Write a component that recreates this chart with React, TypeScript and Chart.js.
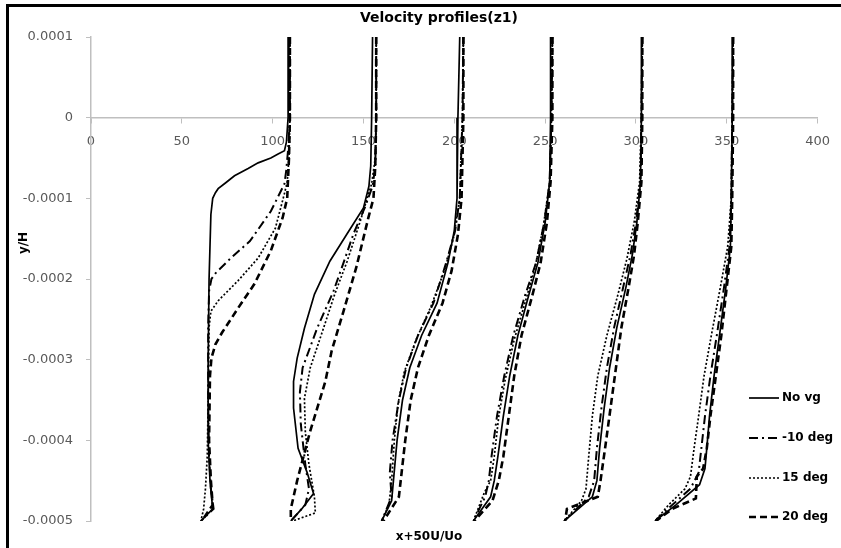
import React, { useEffect, useRef } from "react";
import { Chart, registerables } from "chart.js";

Chart.register(...registerables);

const chartTitle = "Velocity profiles(z1)";
const xAxisTitle = "x+50U/Uo";
const yAxisTitle = "y/H";
const seriesNames = ["No vg", "-10 deg", "15 deg", "20 deg"];
const yTickValues = [0.0001, 0, -0.0001, -0.0002, -0.0003, -0.0004, -0.0005];
const yTickLabels = ["0.0001", "0", "-0.0001", "-0.0002", "-0.0003", "-0.0004", "-0.0005"];

type P = [number, number];

// Series "No vg": six profiles (stations), points [x+50U/Uo, y/H]
const noVgProfiles: P[][] = [
  [[109, 0.0001], [108.5, 0], [107.6, -0.00003], [106.5, -0.000041], [103, -0.000045], [99, -0.00005], [92, -0.000056], [86.5, -0.000063], [79, -0.000072], [74, -0.000081], [70, -0.000088], [68.5, -0.000093], [67, -0.0001], [66, -0.00012], [65, -0.0002], [64.5, -0.0003], [64.5, -0.0004], [65.5, -0.00045], [67, -0.000485], [60.5, -0.0005]],
  [[155, 0.0001], [154.5, 0], [154, -0.00006], [153, -0.000085], [150, -0.000112], [141, -0.000144], [131.5, -0.000178], [123, -0.000219], [117.5, -0.000261], [113.5, -0.000298], [111.5, -0.000327], [111.5, -0.00036], [114, -0.00041], [119, -0.00044], [122.5, -0.000466], [116, -0.000485], [110, -0.0005]],
  [[203, 0.0001], [202, 0], [201.5, -0.0001], [200, -0.00014], [196.5, -0.00018], [190.5, -0.00023], [182, -0.00027], [175.5, -0.00031], [171.5, -0.00035], [168.5, -0.0004], [166.5, -0.00045], [165.5, -0.000475], [160, -0.0005]],
  [[253, 0.0001], [253, 0], [252.5, -0.00008], [250, -0.00013], [246, -0.00018], [241, -0.00022], [235, -0.00027], [230.5, -0.00032], [227, -0.00037], [224, -0.00042], [222, -0.00045], [220, -0.00047], [210.5, -0.0005]],
  [[303, 0.0001], [303, 0], [302.5, -0.00008], [300.5, -0.00013], [298, -0.00017], [294.5, -0.00021], [289.5, -0.00026], [285.5, -0.00031], [282.5, -0.00036], [280, -0.00041], [278.5, -0.00045], [276, -0.00047], [260.5, -0.0005]],
  [[353, 0.0001], [353, 0], [352.5, -0.0001], [352, -0.00016], [349.5, -0.00021], [346, -0.00027], [343, -0.00032], [340.5, -0.00037], [339, -0.00041], [338, -0.000435], [335, -0.000455], [322, -0.00048], [310.5, -0.0005]],
];

// Series "-10 deg"
const deg10Profiles: P[][] = [
  [[109.5, 0.0001], [109.5, 0], [108.5, -0.00004], [107.5, -0.000065], [106.5, -0.000082], [99, -0.000116], [87.5, -0.000153], [77, -0.000174], [68.5, -0.000193], [66.3, -0.0002], [65, -0.000215], [64.5, -0.00026], [64.5, -0.00035], [65, -0.00042], [66, -0.00046], [67.5, -0.000485], [60.5, -0.0005]],
  [[157, 0.0001], [157, 0], [156.5, -0.00006], [155, -0.000085], [151, -0.00011], [144.5, -0.000144], [139, -0.00018], [133.5, -0.000215], [124.5, -0.000261], [116.5, -0.00031], [115, -0.00034], [115.5, -0.00038], [118, -0.00043], [120, -0.00046], [118, -0.00048], [110, -0.0005]],
  [[205, 0.0001], [204.5, 0], [203, -0.0001], [200.5, -0.00014], [195.5, -0.00018], [188.5, -0.00023], [180, -0.00027], [173.5, -0.00031], [169.5, -0.00035], [166, -0.0004], [164.5, -0.00044], [165.5, -0.00047], [160, -0.0005]],
  [[254, 0.0001], [253.5, 0], [252.5, -0.00008], [249.5, -0.00013], [245, -0.00018], [239, -0.00022], [232.5, -0.00027], [227.5, -0.00032], [223.5, -0.00037], [220.5, -0.00042], [219, -0.00045], [217, -0.00047], [210.5, -0.0005]],
  [[303.5, 0.0001], [303, 0], [302.5, -0.00008], [300, -0.00013], [297, -0.00017], [293, -0.00021], [288, -0.00026], [284, -0.00031], [281, -0.00036], [278.5, -0.00041], [277, -0.00045], [274, -0.00047], [260.5, -0.0005]],
  [[353.5, 0.0001], [353, 0], [352.5, -0.0001], [351.5, -0.00016], [348.5, -0.00021], [344.5, -0.00027], [341, -0.00032], [338, -0.00037], [336, -0.00041], [334.5, -0.00044], [330, -0.00046], [320, -0.00048], [310.5, -0.0005]],
];

// Series "15 deg"
const deg15Profiles: P[][] = [
  [[109.5, 0.0001], [109.5, 0], [109, -0.00005], [108, -0.00008], [106.5, -0.000094], [101.5, -0.000137], [92, -0.000174], [81, -0.000202], [70, -0.000227], [66, -0.00024], [65, -0.00026], [64.5, -0.00035], [64, -0.00042], [63, -0.00046], [62, -0.000485], [60.5, -0.0005]],
  [[157, 0.0001], [157, 0], [156.5, -0.00005], [154.5, -0.000082], [148, -0.00013], [141, -0.000178], [134, -0.00022], [128, -0.000261], [120.7, -0.00031], [117.5, -0.000348], [118, -0.00039], [120, -0.00043], [123, -0.00047], [123.5, -0.00049], [111, -0.0005]],
  [[205, 0.0001], [204.5, 0], [203, -0.0001], [199.5, -0.00015], [194.5, -0.00019], [187, -0.000235], [179, -0.000275], [172.5, -0.000315], [169, -0.000355], [167, -0.0004], [165.5, -0.00045], [164, -0.00048], [160, -0.0005]],
  [[254, 0.0001], [253.5, 0], [252.5, -0.00008], [249, -0.000135], [244.5, -0.000185], [239.5, -0.000225], [233, -0.000275], [228, -0.000325], [224.5, -0.00037], [222, -0.00042], [220, -0.00045], [216.5, -0.000465], [210.5, -0.0005]],
  [[303.5, 0.0001], [303, 0], [302, -0.00008], [299, -0.00013], [295, -0.000175], [290, -0.00022], [284, -0.00027], [279, -0.00032], [276, -0.00037], [274, -0.00042], [272.5, -0.00046], [270, -0.000475], [260.5, -0.0005]],
  [[353.5, 0.0001], [353, 0], [352.5, -0.0001], [350.5, -0.00016], [346.5, -0.00021], [341.5, -0.00027], [337.5, -0.00032], [334.5, -0.00037], [332, -0.00041], [330, -0.000445], [327, -0.00046], [318, -0.00048], [310.5, -0.0005]],
];

// Series "20 deg"
const deg20Profiles: P[][] = [
  [[109.5, 0.0001], [109.5, 0], [109, -0.00005], [108, -0.0001], [105.5, -0.000124], [99, -0.000165], [90, -0.000206], [81, -0.000236], [72, -0.000267], [68.5, -0.000281], [66.3, -0.000298], [65.5, -0.00032], [65, -0.0004], [66, -0.00045], [67, -0.00048], [61, -0.0005]],
  [[157, 0.0001], [157, 0], [156.5, -0.00006], [155.5, -0.0001], [152.7, -0.000124], [146, -0.000186], [139, -0.00024], [132.5, -0.000289], [129, -0.000327], [120.5, -0.00039], [113.5, -0.00045], [110, -0.000485], [110, -0.0005]],
  [[205, 0.0001], [205, 0], [204, -0.0001], [202, -0.000145], [198.5, -0.00019], [193.5, -0.00023], [186, -0.00027], [180, -0.00031], [176, -0.00035], [173, -0.0004], [171, -0.00044], [169.5, -0.00047], [161, -0.0005]],
  [[254, 0.0001], [254, 0], [253, -0.00008], [251, -0.00013], [247.5, -0.00018], [243, -0.00022], [237, -0.00027], [233, -0.00032], [230, -0.00037], [227, -0.00042], [224.5, -0.00045], [221, -0.000475], [211, -0.0005]],
  [[303.5, 0.0001], [303.5, 0], [303, -0.00008], [301, -0.00013], [299, -0.00017], [296, -0.00021], [292, -0.00026], [289, -0.00031], [286, -0.00036], [283, -0.00041], [280.5, -0.00045], [279, -0.00047], [262, -0.000485], [261, -0.0005]],
  [[353.5, 0.0001], [353.5, 0], [353, -0.0001], [352.5, -0.00016], [350, -0.00021], [347, -0.00027], [344, -0.00032], [341, -0.00037], [339, -0.00041], [337, -0.000435], [333.5, -0.000445], [333, -0.000472], [320, -0.000485], [311, -0.0005]],
];

const allSeries = [noVgProfiles, deg10Profiles, deg15Profiles, deg20Profiles];
const seriesDash: number[][] = [[], [9, 4, 2, 4], [2, 2], [7, 4]];
const seriesWidth = [1.7, 2, 1.7, 2.6];

const TICK_FONT = { family: '"DejaVu Sans", sans-serif', size: 13 };

const decorPlugin = {
  id: "decor",
  beforeDraw(chart: any) {
    const { ctx, width, height } = chart;
    ctx.save();
    ctx.fillStyle = "#ffffff";
    ctx.fillRect(0, 0, width, height);
    ctx.fillStyle = "#000000";
    ctx.fillRect(6, 4, width - 6, 3);
    ctx.fillRect(6, 4, 3, height - 4);
    ctx.restore();
  },
  afterDraw(chart: any) {
    const { ctx } = chart;
    ctx.save();
    ctx.fillStyle = "#000000";
    ctx.textBaseline = "middle";
    ctx.textAlign = "center";
    ctx.font = 'bold 14px "DejaVu Sans", sans-serif';
    ctx.fillText(chartTitle, 439, 18);
    ctx.font = 'bold 12px "DejaVu Sans", sans-serif';
    ctx.fillText(xAxisTitle, 429, 537);
    ctx.save();
    ctx.translate(24, 243);
    ctx.rotate(-Math.PI / 2);
    ctx.fillText(yAxisTitle, 0, 0);
    ctx.restore();

    // legend
    const rows = [398, 438, 478, 517];
    ctx.textAlign = "left";
    ctx.font = 'bold 12px "DejaVu Sans", sans-serif';
    seriesNames.forEach((name, i) => {
      const y = rows[i];
      ctx.save();
      ctx.strokeStyle = "#000";
      ctx.lineWidth = seriesWidth[i];
      ctx.setLineDash(seriesDash[i]);
      ctx.beginPath();
      ctx.moveTo(749, y);
      ctx.lineTo(779, y);
      ctx.stroke();
      ctx.restore();
      ctx.fillText(name, 782, y);
    });
    ctx.restore();
  },
};

export default function App() {
  const ref = useRef<HTMLCanvasElement | null>(null);

  useEffect(() => {
    if (!ref.current) return;
    const datasets: any[] = [];
    allSeries.forEach((profiles, si) => {
      profiles.forEach((prof, pi) => {
        datasets.push({
          label: seriesNames[si] + " " + (pi + 1),
          data: prof.map(([x, y]) => ({ x, y })),
          showLine: true,
          borderColor: "#000000",
          backgroundColor: "#000000",
          borderWidth: seriesWidth[si],
          borderDash: seriesDash[si],
          pointRadius: 0,
          pointHoverRadius: 0,
          tension: 0,
          fill: false,
        });
      });
    });

    const chart = new Chart(ref.current, {
      type: "scatter",
      data: { datasets },
      plugins: [decorPlugin],
      options: {
        animation: false,
        responsive: false,
        devicePixelRatio: 1,
        layout: { padding: { left: 10, top: 37, right: 14, bottom: 27 } },
        plugins: {
          legend: { display: false },
          tooltip: { enabled: false },
          title: { display: false },
        },
        scales: {
          x: {
            type: "linear",
            position: { y: 0 } as any,
            min: 0,
            max: 400,
            ticks: {
              stepSize: 50,
              color: "#595959",
              font: TICK_FONT,
              padding: 11,
            },
            grid: {
              drawOnChartArea: false,
              drawTicks: true,
              tickLength: 5,
              color: "#bfbfbf",
            },
            border: { color: "#bfbfbf", width: 1.5 },
            afterFit: (s: any) => {
              s.height = 0;
            },
          },
          y: {
            type: "linear",
            min: -0.0005,
            max: 0.0001,
            ticks: {
              stepSize: 0.0001,
              color: "#595959",
              font: TICK_FONT,
              padding: 13,
              callback: (v: any) => {
                const idx = yTickValues.findIndex((t) => Math.abs(t - Number(v)) < 1e-9);
                return idx >= 0 ? yTickLabels[idx] : "";
              },
            },
            grid: {
              drawOnChartArea: false,
              drawTicks: true,
              tickLength: 5,
              color: "#bfbfbf",
            },
            border: { color: "#bfbfbf", width: 1.5 },
            afterFit: (s: any) => {
              s.width = 81;
            },
          },
        },
      },
    });
    return () => chart.destroy();
  }, []);

  return (
    <div style={{ position: "absolute", left: 0, top: 0, width: 841, height: 548 }}>
      <canvas ref={ref} width={841} height={548} style={{ width: 841, height: 548, display: "block" }} />
    </div>
  );
}
